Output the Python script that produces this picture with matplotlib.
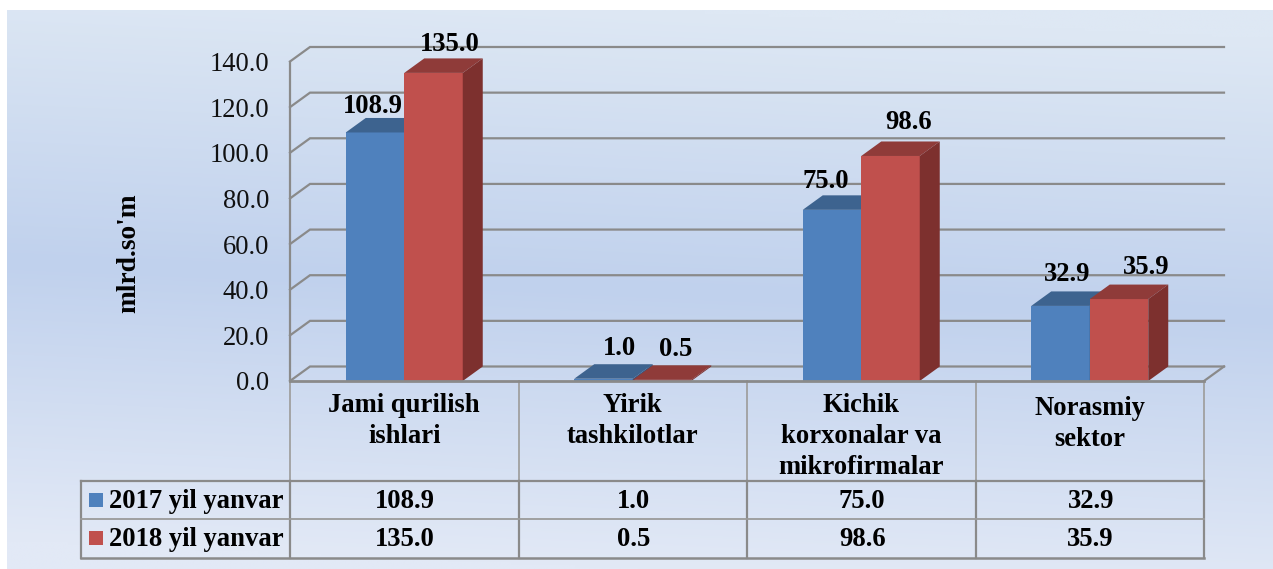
import numpy as np
import matplotlib.pyplot as plt
from matplotlib.patches import Polygon, Rectangle

categories = ["Jami qurilish\nishlari", "Yirik\ntashkilotlar", "Kichik\nkorxonalar va\nmikrofirmalar", "Norasmiy\nsektor"]
series_names = ["2017 yil yanvar", "2018 yil yanvar"]
values_2017 = [108.9, 1.0, 75.0, 32.9]
values_2018 = [135.0, 0.5, 98.6, 35.9]
y_ticks = [0, 20, 40, 60, 80, 100, 120, 140]

plt.rcParams["font.family"] = ["Liberation Serif", "DejaVu Serif"]

W, H = 1273, 569
FONT = 19.2
GRID = "#8a8a8a"
col_edges = [290, 518.5, 747, 975.5, 1204]

fig = plt.figure(figsize=(W / 100, H / 100), dpi=100)

# background and table live in pixel coords
bg = fig.add_axes([0, 0, 1, 1])
bg.set_xlim(0, W)
bg.set_ylim(H, 0)
bg.axis("off")
yy, xx = np.mgrid[0:1:200j, 0:1:300j]
t = yy + 0.10 * (0.5 - xx)
stops = [0.0, 0.5, 1.0]
c1 = np.array([222, 232, 244])
c2 = np.array([192, 209, 237])
c3 = np.array([226, 233, 246])
grad = np.dstack([np.interp(t, stops, [c1[i], c2[i], c3[i]]) for i in range(3)]) / 255
bg.imshow(grad, extent=[7, W, H, 10], aspect="auto", interpolation="bilinear")
bg.set_xlim(0, W)
bg.set_ylim(H, 0)

ax = fig.add_axes([290 / W, (H - 381) / H, 914 / W, 319.5 / H])
ax.patch.set_alpha(0)
ax.set_xlim(0, 4)
ax.set_ylim(0, 140)
for s in ax.spines.values():
    s.set_visible(False)
ax.spines["left"].set_visible(True)
ax.spines["left"].set_color(GRID)
ax.spines["left"].set_linewidth(1.6)
ax.set_xticks([])
ax.set_yticks(y_ticks)
ax.set_yticklabels([f"{v:.1f}" for v in y_ticks], fontsize=FONT, color="#111111")
ax.tick_params(axis="y", length=0, pad=15)
ax.set_ylabel("mlrd.so'm", fontsize=FONT + 0.5, fontweight="bold", labelpad=0)
ax.yaxis.set_label_coords(-149 / 914, 128 / 319.5)

# fake 3d depth
dx = 20 / 228.5
dy = 14.5 / 2.282
bar_w = 58.5 / 228.5

for v in y_ticks:
    ax.plot([0, dx, 4 + dx], [v, v + dy, v + dy], color=GRID, lw=1.6, clip_on=False, zorder=1, solid_joinstyle="miter")
ax.plot([4, 4 + dx], [0, dy], color=GRID, lw=1.6, clip_on=False, zorder=1)
ax.plot([0, 4], [0, 0], color=GRID, lw=2, clip_on=False, zorder=5)


def draw_series(vals, offset, front, top, side, z):
    x = np.arange(4) + 0.5 + offset
    ax.bar(x, vals, width=bar_w, color=front, zorder=z, clip_on=False, linewidth=0)
    for xi, v in zip(x, vals):
        l, r = xi - bar_w / 2, xi + bar_w / 2
        ax.add_patch(Polygon([(l, v), (r, v), (r + dx, v + dy), (l + dx, v + dy)], closed=True,
                             fc=top, ec="none", zorder=z, clip_on=False))
        ax.add_patch(Polygon([(r, 0), (r, v), (r + dx, v + dy), (r + dx, dy)], closed=True,
                             fc=side, ec="none", zorder=z, clip_on=False))


draw_series(values_2017, -bar_w / 2, "#4F81BD", "#3D638F", "#345680", 3)
draw_series(values_2018, bar_w / 2, "#C0504D", "#8F3B39", "#7D302E", 4)

# data labels, nudged by hand like the original
nudge_2017 = [(-2, 26), (16, 30), (-6, 28), (7, 31)]
nudge_2018 = [(16, 28), (14, 30), (18, 33), (27, 32)]
for vals, nudge, off in [(values_2017, nudge_2017, -bar_w / 2), (values_2018, nudge_2018, bar_w / 2)]:
    for i, v in enumerate(vals):
        ax.annotate(f"{v:.1f}", (i + 0.5 + off, v), xytext=nudge[i], textcoords="offset pixels",
                    ha="center", va="center", fontsize=FONT, fontweight="bold", color="black",
                    annotation_clip=False, zorder=6)

# table under the plot
for x in col_edges:
    bg.plot([x, x], [381, 481], color="#a0a0a0", lw=1.3)
for x in col_edges + [81]:
    bg.plot([x, x], [481, 557.5], color=GRID, lw=1.6)
bg.plot([81, 1204], [481, 481], color=GRID, lw=1.6)
bg.plot([81, 1204], [519, 519], color="#9a9a9a", lw=1.3)
bg.plot([81, 1204], [557.5, 557.5], color=GRID, lw=1.8)

cat_top = [393, 393, 393, 396]
for i, name in enumerate(categories):
    cx = (col_edges[i] + col_edges[i + 1]) / 2
    bg.text(cx, cat_top[i], name, ha="center", va="top", fontsize=FONT, fontweight="bold", linespacing=1.31)

rows = [(500, "#4F81BD", values_2017), (538, "#C0504D", values_2018)]
for (cy, color, vals), name in zip(rows, series_names):
    bg.add_patch(Rectangle((89, cy - 7), 14, 14, fc=color, ec="none"))
    bg.text(109, cy + 1, name, ha="left", va="center", fontsize=FONT, fontweight="bold")
    for i, v in enumerate(vals):
        cx = (col_edges[i] + col_edges[i + 1]) / 2
        bg.text(cx + 1, cy + 1, f"{v:.1f}", ha="center", va="center", fontsize=FONT, fontweight="bold")

fig.savefig("out.png", dpi=100, facecolor="white")
